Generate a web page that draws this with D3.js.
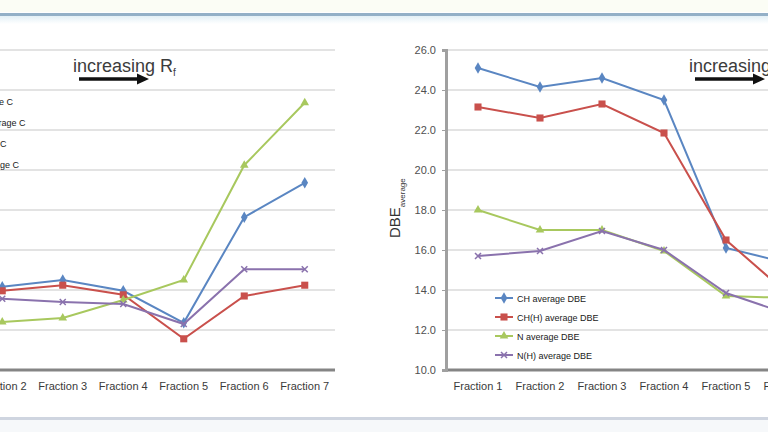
<!DOCTYPE html>
<html>
<head>
<meta charset="utf-8">
<script src="https://cdn.jsdelivr.net/npm/d3@7"></script>
<style>
  body { margin: 0; background: #fff; }
  svg { display: block; font-family: Arial, "Liberation Sans", sans-serif; }
</style>
</head>
<body>
<script>
/* -----------------------------------------------------
 *  Data
 ----------------------------------------------------- */
const fractions = ["Fraction 1", "Fraction 2", "Fraction 3", "Fraction 4", "Fraction 5", "Fraction 6", "Fraction 7"];

// left panel: average C (its y axis is cut off in the reference)
const chAvgC = [20.0, 20.4, 21.25, 19.9, 15.9, 29.1, 33.4];
const chhAvgC = [19.5, 19.9, 20.6, 19.4, 13.9, 19.25, 20.6];
const nAvgC = [15.8, 16.0, 16.5, 18.75, 21.25, 35.6, 43.4];
const nhAvgC = [19.2, 18.9, 18.5, 18.25, 15.75, 22.6, 22.6];
const avgCTicks = [10, 15, 20, 25, 30, 35, 40, 45, 50];

// right panel: average DBE
const chDBE = [25.1, 24.15, 24.6, 23.5, 16.1, 15.35, 15.0];
const chhDBE = [23.15, 22.6, 23.3, 21.85, 16.5, 13.8, 13.2];
const nDBE = [18.0, 17.0, 17.0, 15.95, 13.7, 13.6, 13.4];
const nhDBE = [15.7, 15.95, 16.95, 16.0, 13.85, 12.8, 12.5];
const dbeTicks = [10, 12, 14, 16, 18, 20, 22, 24, 26];

const seriesNames = ["CH", "CH(H)", "N", "N(H)"];
const seriesColors = ["#5a86c2", "#c9504c", "#a8c85e", "#8a72ad"];
const seriesMarkers = ["diamond", "square", "triangle", "x"];

/* -----------------------------------------------------
 *  SVG setup
 ----------------------------------------------------- */
const width = 768;
const height = 432;

const svg = d3
  .select("body")
  .append("svg")
  .attr("width", width)
  .attr("height", height);

// page frame: top band + blue rule, bottom rule + band
const defs = svg.append("defs");
const grad = defs.append("linearGradient").attr("id", "topfade").attr("x1", 0).attr("x2", 0).attr("y1", 0).attr("y2", 1);
grad.append("stop").attr("offset", "0%").attr("stop-color", "#e3f0f6");
grad.append("stop").attr("offset", "100%").attr("stop-color", "#ffffff");

svg.append("rect").attr("x", 0).attr("y", 0).attr("width", width).attr("height", 12).attr("fill", "#fbfdf5");
svg.append("rect").attr("x", 0).attr("y", 16).attr("width", width).attr("height", 8).attr("fill", "url(#topfade)");
svg.append("line").attr("x1", 0).attr("x2", width).attr("y1", 14.5).attr("y2", 14.5)
  .attr("stroke", "#93b0c7").attr("stroke-width", 3);
svg.append("rect").attr("x", 0).attr("y", 420).attr("width", width).attr("height", 12).attr("fill", "#f6f8fa");
svg.append("line").attr("x1", 0).attr("x2", width).attr("y1", 418.5).attr("y2", 418.5)
  .attr("stroke", "#cfd5e0").attr("stroke-width", 3);

/* -----------------------------------------------------
 *  Marker helper
 ----------------------------------------------------- */
function drawMarker(g, kind, color) {
  if (kind === "diamond") {
    g.append("path").attr("d", d3.symbol(d3.symbolDiamond, 38)()).attr("fill", color);
  } else if (kind === "square") {
    g.append("path").attr("d", d3.symbol(d3.symbolSquare, 50)()).attr("fill", color);
  } else if (kind === "triangle") {
    g.append("path").attr("d", d3.symbol(d3.symbolTriangle, 32)()).attr("fill", color);
  } else {
    g.append("path").attr("d", "M-3,-3L3,3M-3,3L3,-3").attr("stroke", color).attr("stroke-width", 1.5).attr("fill", "none");
  }
}

/* -----------------------------------------------------
 *  One panel
 ----------------------------------------------------- */
function drawPanel(p) {
  const x = d3.scaleBand().domain(fractions).range(p.xRange);
  const y = d3.scaleLinear().domain(d3.extent(p.ticks)).range([370, 50]);
  const g = svg.append("g");

  // gridlines
  g.selectAll(".grid")
    .data(p.ticks.slice(1))
    .enter()
    .append("line")
    .attr("x1", p.gridX[0])
    .attr("x2", p.gridX[1])
    .attr("y1", (d) => y(d))
    .attr("y2", (d) => y(d))
    .attr("stroke", "#dadada")
    .attr("stroke-width", 1.5);

  // x axis
  g.append("line")
    .attr("x1", p.gridX[0]).attr("x2", p.gridX[1])
    .attr("y1", y(p.ticks[0])).attr("y2", y(p.ticks[0]))
    .attr("stroke", "#858585").attr("stroke-width", 3);

  g.selectAll(".xlab")
    .data(fractions)
    .enter()
    .append("text")
    .attr("x", (d) => x(d) + x.bandwidth() / 2)
    .attr("y", 390)
    .attr("text-anchor", "middle")
    .attr("font-size", 11)
    .attr("fill", "#3a3a3a")
    .text((d) => d);

  // y axis (only where visible)
  if (p.yAxisX != null) {
    const ya = g.append("g")
      .attr("transform", `translate(${p.yAxisX},0)`)
      .call(d3.axisLeft(y).tickValues(p.ticks).tickSize(4).tickPadding(6).tickFormat(d3.format(".1f")));
    ya.select(".domain").attr("stroke", "#a0a0a0").attr("stroke-width", 3);
    ya.selectAll(".tick line").attr("stroke", "#a0a0a0");
    ya.selectAll(".tick text").attr("font-size", 11).attr("fill", "#505050").attr("font-family", "Arial, 'Liberation Sans', sans-serif");

    const lab = g.append("text")
      .attr("transform", `translate(${p.yAxisX - 46},238) rotate(-90)`)
      .attr("font-size", 15)
      .attr("fill", "#333");
    lab.append("tspan").text("DBE");
    lab.append("tspan").attr("font-size", 8).attr("dy", 5).text("average");
  }

  // series
  const line = d3.line().x((d, i) => x(fractions[i]) + x.bandwidth() / 2).y((d) => y(d));
  p.series.forEach((vals, si) => {
    g.append("path")
      .datum(vals)
      .attr("d", line)
      .attr("fill", "none")
      .attr("stroke", seriesColors[si])
      .attr("stroke-width", 2);
    vals.forEach((v, i) => {
      const m = g.append("g").attr("transform", `translate(${x(fractions[i]) + x.bandwidth() / 2},${y(v)})`);
      drawMarker(m, seriesMarkers[si], seriesColors[si]);
    });
  });

  // legend
  seriesNames.forEach((name, si) => {
    const ly = p.legend.y + si * p.legend.step;
    const lg = g.append("g").attr("transform", `translate(${p.legend.x},${ly})`);
    lg.append("line").attr("x1", -22).attr("x2", -4).attr("y1", 0).attr("y2", 0)
      .attr("stroke", seriesColors[si]).attr("stroke-width", 2);
    const m = lg.append("g").attr("transform", "translate(-13,0)");
    drawMarker(m, seriesMarkers[si], seriesColors[si]);
    lg.append("text").attr("x", 0).attr("y", 3.5)
      .attr("font-size", 9).attr("fill", "#1a1a1a")
      .text(`${name} average ${p.legend.unit}`);
  });

  // "increasing Rf" annotation
  const t = g.append("text")
    .attr("x", p.note[0]).attr("y", 72)
    .attr("font-size", 18).attr("fill", "#3c3c3c");
  t.append("tspan").text("increasing R");
  t.append("tspan").attr("font-size", 10).attr("dy", 4).text("f");
  g.append("line")
    .attr("x1", p.note[0] + 6).attr("x2", p.note[0] + 68)
    .attr("y1", 79).attr("y2", 79)
    .attr("stroke", "#111").attr("stroke-width", 3.5);
  g.append("path")
    .attr("d", `M${p.note[0] + 76},79L${p.note[0] + 64},73.5L${p.note[0] + 64},84.5Z`)
    .attr("fill", "#111");
}

drawPanel({
  xRange: [-88.5, 335],
  gridX: [-100, 335],
  ticks: avgCTicks,
  yAxisX: null,
  series: [chAvgC, chhAvgC, nAvgC, nhAvgC],
  legend: { x: -44, y: 101, step: 21, unit: "C" },
  note: [73]
});

drawPanel({
  xRange: [447, 881],
  gridX: [446, 800],
  ticks: dbeTicks,
  yAxisX: 446,
  series: [chDBE, chhDBE, nDBE, nhDBE],
  legend: { x: 517, y: 298, step: 19, unit: "DBE" },
  note: [689]
});
</script>
</body>
</html>
